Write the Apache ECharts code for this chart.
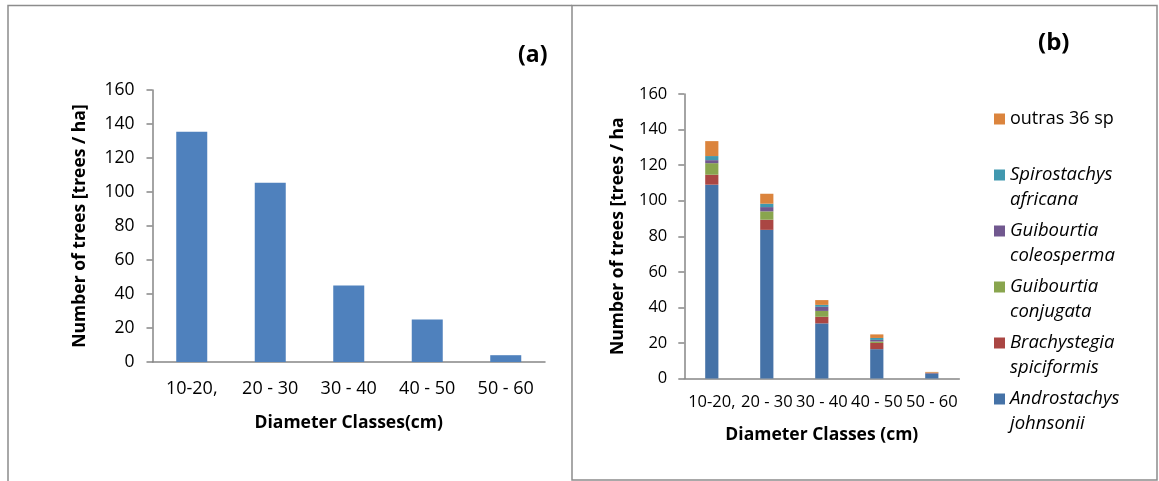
<!DOCTYPE html>
<html>
<head>
<meta charset="utf-8">
<script src="https://cdn.jsdelivr.net/npm/echarts@6/dist/echarts.min.js"></script>
<style>
  html, body { margin: 0; padding: 0; background: #fff; }
  #chart { width: 1159px; height: 481px; }
</style>
</head>
<body>
<div id="chart"></div>
<script>
// Diameter classes shared by both panels
const classes = ['10-20,', '20 - 30', '30 - 40', '40 - 50', '50 - 60'];
const yTicks = { min: 0, max: 160, interval: 20 };

// Panel (a): total tree density per class (trees / ha)
const totalTrees = [135.5, 105.5, 45, 25, 4];

// Panel (b): density per class broken down by species (trees / ha)
const androstachys = [109, 83.6, 31, 16.5, 2.9];
const brachystegia = [5.6, 5.7, 3.7, 3.5, 0.3];
const guibConjugata = [6.5, 4.7, 3.3, 0.8, 0.1];
const guibColeosperma = [1.7, 2.4, 2.3, 0.9, 0];
const spirostachys = [2.3, 1.9, 1.1, 1.1, 0];
const outras = [8.4, 5.6, 2.7, 2.0, 0.4];

// Species names, legend lines and colours
const species = [
  { name: 'Androstachys johnsonii', lines: ['Androstachys', 'johnsonii'], italic: true, data: androstachys, color: '#4572A7' },
  { name: 'Brachystegia spiciformis', lines: ['Brachystegia', 'spiciformis'], italic: true, data: brachystegia, color: '#AA4643' },
  { name: 'Guibourtia conjugata', lines: ['Guibourtia', 'conjugata'], italic: true, data: guibConjugata, color: '#89A54E' },
  { name: 'Guibourtia coleosperma', lines: ['Guibourtia', 'coleosperma'], italic: true, data: guibColeosperma, color: '#71588F' },
  { name: 'Spirostachys africana', lines: ['Spirostachys', 'africana'], italic: true, data: spirostachys, color: '#4198AF' },
  { name: 'outras 36 sp', lines: ['outras 36 sp', ' '], italic: false, data: outras, color: '#DB843D' }
];

const FONT = '"Open Sans", "Noto Sans", sans-serif';
const AXIS_COLOR = '#868686';
const TEXT_COLOR = '#000';

function valueAxis(gridIndex, fontSize, margin, nameGap, name) {
  return {
    type: 'value',
    gridIndex: gridIndex,
    min: yTicks.min, max: yTicks.max, interval: yTicks.interval,
    name: name,
    nameLocation: 'middle',
    nameGap: nameGap,
    nameRotate: 90,
    nameTextStyle: { fontFamily: FONT, fontSize: 17.5, fontWeight: 'bold', color: TEXT_COLOR },
    axisLine: { show: true, lineStyle: { color: AXIS_COLOR, width: 1.5 } },
    axisTick: { show: true, length: 6, inside: false, lineStyle: { color: AXIS_COLOR, width: 1.5 } },
    axisLabel: { fontFamily: FONT, fontSize: fontSize, color: TEXT_COLOR, margin: margin },
    splitLine: { show: false }
  };
}

function categoryAxis(gridIndex, fontSize, margin, nameGap, name) {
  return {
    type: 'category',
    gridIndex: gridIndex,
    data: classes,
    name: name,
    nameLocation: 'middle',
    nameGap: nameGap,
    nameTextStyle: { fontFamily: FONT, fontSize: 17.5, fontWeight: 'bold', color: TEXT_COLOR },
    axisLine: { show: true, lineStyle: { color: AXIS_COLOR, width: 1.5 } },
    axisTick: { show: false },
    axisLabel: { fontFamily: FONT, fontSize: fontSize, color: TEXT_COLOR, margin: margin, interval: 0 },
    splitLine: { show: false }
  };
}

const legendRich = {
  i: { fontFamily: FONT, fontSize: 18.5, fontStyle: 'italic', lineHeight: 25, color: TEXT_COLOR },
  n: { fontFamily: FONT, fontSize: 18, lineHeight: 25, color: TEXT_COLOR }
};

// Legend lists the top of the stack first
const legendOrder = species.slice().reverse();

const option = {
  animation: false,
  backgroundColor: '#fff',
  textStyle: { fontFamily: FONT },
  title: [
    { text: '(a)', left: 513, top: 39, textStyle: { fontFamily: FONT, fontSize: 23, fontWeight: 'bold', color: TEXT_COLOR } },
    { text: '(b)', left: 1033, top: 26, textStyle: { fontFamily: FONT, fontSize: 24, fontWeight: 'bold', color: TEXT_COLOR } }
  ],
  grid: [
    { left: 152.5, top: 90, width: 392.5, height: 272 },
    { left: 684.3, top: 94, width: 275, height: 284.5 }
  ],
  xAxis: [
    categoryAxis(0, 18, 18, 52, 'Diameter Classes(cm)'),
    categoryAxis(1, 16.5, 15, 48, 'Diameter Classes (cm)')
  ],
  yAxis: [
    valueAxis(0, 17.5, 18, 63, 'Number of trees [trees / ha]'),
    valueAxis(1, 16.5, 17, 57, 'Number of trees [trees / ha')
  ],
  legend: {
    orient: 'vertical',
    left: 994,
    top: 81.5,
    padding: 0,
    itemGap: -19,
    itemWidth: 11,
    itemHeight: 11,
    icon: 'rect',
    selectedMode: false,
    data: legendOrder.map(s => s.name),
    formatter: function (name) {
      const s = species.find(p => p.name === name);
      const tag = s.italic ? 'i' : 'n';
      return s.lines.map(l => '{' + tag + '|' + l + '}').join('\n');
    },
    textStyle: {
      fontFamily: FONT, fontSize: 18, lineHeight: 25, color: TEXT_COLOR,
      padding: [25, 0, 0, 0],
      rich: legendRich
    }
  },
  graphic: [
    // panel frames
    { type: 'polyline', silent: true, shape: { points: [[8, 490], [8, 5.5], [572, 5.5]] },
      style: { stroke: '#8c8c8c', lineWidth: 1.5, fill: null } },
    { type: 'rect', silent: true, shape: { x: 572, y: 5.5, width: 585, height: 474.5 },
      style: { stroke: '#8c8c8c', lineWidth: 1.5, fill: null } }
  ],
  series: [
    {
      name: 'Number of trees',
      type: 'bar',
      xAxisIndex: 0, yAxisIndex: 0,
      data: totalTrees,
      barWidth: '39.5%',
      itemStyle: { color: '#4F81BD' }
    }
  ].concat(species.map(s => ({
    name: s.name,
    type: 'bar',
    stack: 'species',
    xAxisIndex: 1, yAxisIndex: 1,
    data: s.data,
    barWidth: '24%',
    itemStyle: { color: s.color }
  })))
};

const chart = echarts.init(document.getElementById('chart'), null, { renderer: 'canvas' });
chart.setOption(option);
</script>
</body>
</html>
